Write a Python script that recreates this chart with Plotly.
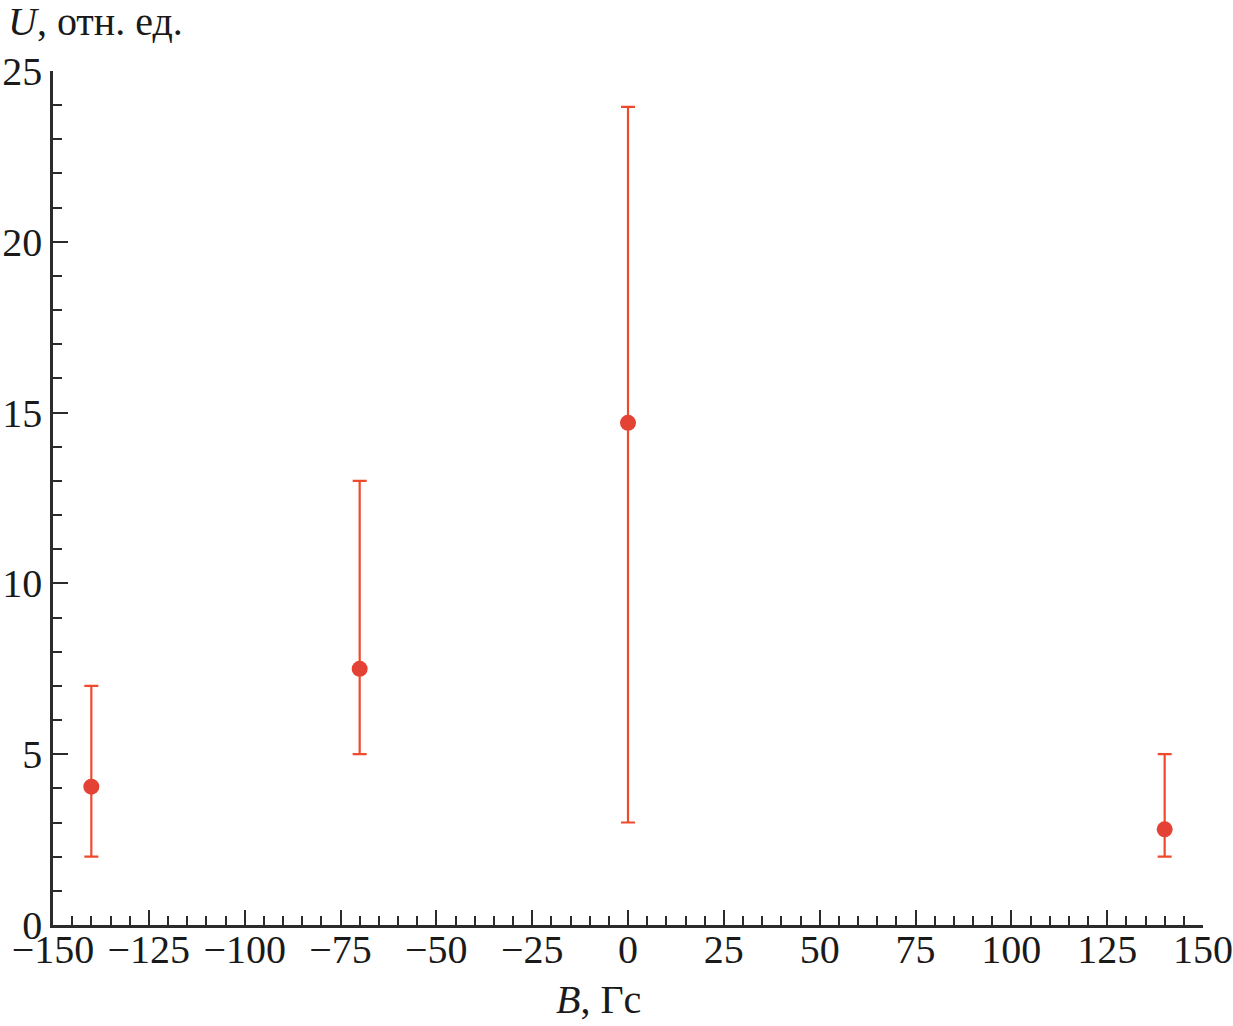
import plotly.graph_objects as go

# magnetic field, Gs
b_field = [-140, -70, 0, 140]
# signal, rel. units
u_mean = [4.05, 7.5, 14.7, 2.8]
u_low = [2.0, 5.0, 3.0, 2.0]
u_high = [7.0, 13.0, 23.95, 5.0]

x_ticks = [-150, -125, -100, -75, -50, -25, 0, 25, 50, 75, 100, 125, 150]
x_ticktext = [("\u2212" + str(-v)) if v < 0 else str(v) for v in x_ticks]
y_ticks = [0, 5, 10, 15, 20, 25]

err_plus = [h - m for h, m in zip(u_high, u_mean)]
err_minus = [m - l for m, l in zip(u_mean, u_low)]

font = "Liberation Serif, Times New Roman, serif"
axis_col = "#2b2b2b"
tickfont = dict(family=font, size=40, color="#1a1a1a")

fig = go.Figure()
fig.add_trace(go.Scatter(
    x=b_field, y=u_mean, mode="markers",
    marker=dict(color="#e34234", size=16, line=dict(width=0)),
    error_y=dict(type="data", symmetric=False, array=err_plus, arrayminus=err_minus,
                 color="#ef4a2c", thickness=2.2, width=7),
    showlegend=False,
))
# invisible copy so the label-only axis gets drawn
fig.add_trace(go.Scatter(
    x=b_field, y=u_mean, xaxis="x2", mode="markers",
    marker=dict(opacity=0), hoverinfo="skip", showlegend=False,
))

fig.update_layout(
    xaxis=dict(
        range=[-150, 150], tickvals=x_ticks, showticklabels=False,
        ticks="inside", ticklen=15, tickwidth=2, tickcolor=axis_col,
        showline=True, linecolor=axis_col, linewidth=2.5,
        showgrid=False, zeroline=False, automargin=False,
        minor=dict(dtick=5, ticks="inside", ticklen=9, tickwidth=2, tickcolor=axis_col, showgrid=False),
    ),
    # labels only, lifted a little closer to the axis line
    xaxis2=dict(
        range=[-150, 150], overlaying="x", anchor="free", position=0.003,
        tickvals=x_ticks, ticktext=x_ticktext, ticks="", showline=False,
        showgrid=False, zeroline=False, automargin=False, tickfont=tickfont,
    ),
    yaxis=dict(
        range=[0, 25], tickvals=y_ticks,
        ticks="inside", ticklen=15, tickwidth=2, tickcolor=axis_col,
        showline=True, linecolor=axis_col, linewidth=2.5,
        showgrid=False, zeroline=False, automargin=False,
        minor=dict(dtick=1, ticks="inside", ticklen=9, tickwidth=2, tickcolor=axis_col, showgrid=False),
        tickfont=tickfont, ticklabelstandoff=0,
    ),
    width=1233, height=1026,
    margin=dict(l=53, r=30, t=71, b=101),
    plot_bgcolor="white", paper_bgcolor="white",
    font=dict(family=font, color="#1a1a1a"),
    annotations=[
        dict(text="<i>U</i>, отн. ед.", x=0, y=1.0, xref="paper", yref="paper",
             xshift=-47, yshift=50, xanchor="left", yanchor="middle",
             showarrow=False, font=dict(size=40)),
        dict(text="<i>B</i>, Гс", x=0.5, y=0, xref="paper", yref="paper",
             xshift=-30, yshift=-74, xanchor="center", yanchor="middle",
             showarrow=False, font=dict(size=40)),
    ],
)

# drop the default 8px page margin so the figure fills the window
fig.write_html("out.html", config={"displayModeBar": False},
               post_script="document.body.style.margin='0';")
